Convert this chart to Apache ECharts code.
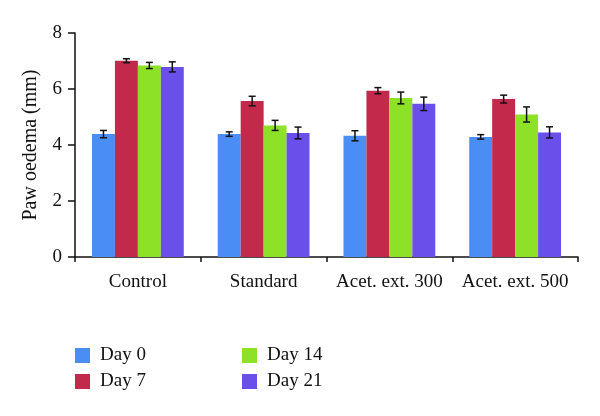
<!DOCTYPE html>
<html><head><meta charset="utf-8">
<script src="https://cdn.jsdelivr.net/npm/echarts@6/dist/echarts.min.js"></script>
<style>html,body{margin:0;padding:0;background:#fff}#c{width:600px;height:416px}</style>
</head><body><div id="c"></div>
<script>
const categories = ['Control', 'Standard', 'Acet. ext. 300', 'Acet. ext. 500'];
const seriesNames = ['Day 0', 'Day 7', 'Day 14', 'Day 21'];
const day0 = [4.39, 4.39, 4.33, 4.29];
const day7 = [7.01, 5.57, 5.94, 5.64];
const day14 = [6.84, 4.70, 5.68, 5.09];
const day21 = [6.79, 4.43, 5.47, 4.45];
const err0 = [0.13, 0.08, 0.18, 0.08];
const err7 = [0.07, 0.17, 0.11, 0.14];
const err14 = [0.11, 0.18, 0.21, 0.27];
const err21 = [0.18, 0.21, 0.24, 0.20];
const yTicks = [0, 2, 4, 6, 8];

const values = [day0, day7, day14, day21];
const errors = [err0, err7, err14, err21];
const colors = ['#4a8ef5', '#c3294a', '#8de228', '#6b4feb'];
const font = 'Liberation Serif';

const chart = echarts.init(document.getElementById('c'));
const barCategoryGap = 0.27;
const series = [];
seriesNames.forEach((n, i) => {
  series.push({
    name: n, type: 'bar', data: values[i], barGap: '0%', barCategoryGap: '27%',
    itemStyle: { color: colors[i] }
  });
});
const errData = [];
for (let c = 0; c < categories.length; c++) {
  for (let s = 0; s < 4; s++) {
    errData.push([c, values[s][c] - errors[s][c], values[s][c] + errors[s][c], s]);
  }
}
series.push({
  type: 'custom', name: 'err', data: errData, z: 10,
  renderItem: function (params, api) {
    const c = api.value(0), s = api.value(3);
    const lo = api.coord([c, api.value(1)]);
    const hi = api.coord([c, api.value(2)]);
    const bandW = api.size([1, 0])[0];
    const groupW = bandW * (1 - barCategoryGap);
    const barW = groupW / 4;
    const x = lo[0] - groupW / 2 + barW * (s + 0.5);
    const cap = 3.5;
    const st = { stroke: '#111', lineWidth: 1.5 };
    return { type: 'group', children: [
      { type: 'line', shape: { x1: x, y1: lo[1], x2: x, y2: hi[1] }, style: st },
      { type: 'line', shape: { x1: x - cap, y1: lo[1], x2: x + cap, y2: lo[1] }, style: st },
      { type: 'line', shape: { x1: x - cap, y1: hi[1], x2: x + cap, y2: hi[1] }, style: st }
    ]};
  }
});

const legendText = { fontFamily: font, fontSize: 19, color: '#111', padding: [0, 0, 0, 5] };
chart.setOption({
  animation: false,
  textStyle: { fontFamily: font },
  grid: { left: 75, right: 22, top: 33, bottom: 159 },
  legend: [
    { data: ['Day 0', 'Day 7'], orient: 'vertical', left: 75, top: 346, padding: 0, itemWidth: 15, itemHeight: 15, itemGap: 7,
      icon: 'rect', textStyle: legendText },
    { data: ['Day 14', 'Day 21'], orient: 'vertical', left: 242, top: 346, padding: 0, itemWidth: 15, itemHeight: 15, itemGap: 7,
      icon: 'rect', textStyle: legendText }
  ],
  xAxis: {
    type: 'category', data: categories,
    axisLine: { lineStyle: { color: '#111', width: 1.5 } },
    axisTick: { show: true, interval: 0, length: 5, lineStyle: { color: '#111', width: 1.5 } },
    axisLabel: { interval: 0, fontFamily: font, fontSize: 19, color: '#111', margin: 16 }
  },
  yAxis: {
    type: 'value', min: yTicks[0], max: yTicks[yTicks.length - 1], interval: 2,
    name: 'Paw oedema (mm)', nameLocation: 'middle', nameGap: 34,
    nameTextStyle: { fontFamily: font, fontSize: 20, color: '#111' },
    splitLine: { show: false },
    axisLine: { show: true, lineStyle: { color: '#111', width: 1.5 } },
    axisTick: { show: true, length: 7, lineStyle: { color: '#111', width: 1.5 } },
    axisLabel: { fontFamily: font, fontSize: 19, color: '#111', margin: 13 }
  },
  series: series
});
</script></body></html>
